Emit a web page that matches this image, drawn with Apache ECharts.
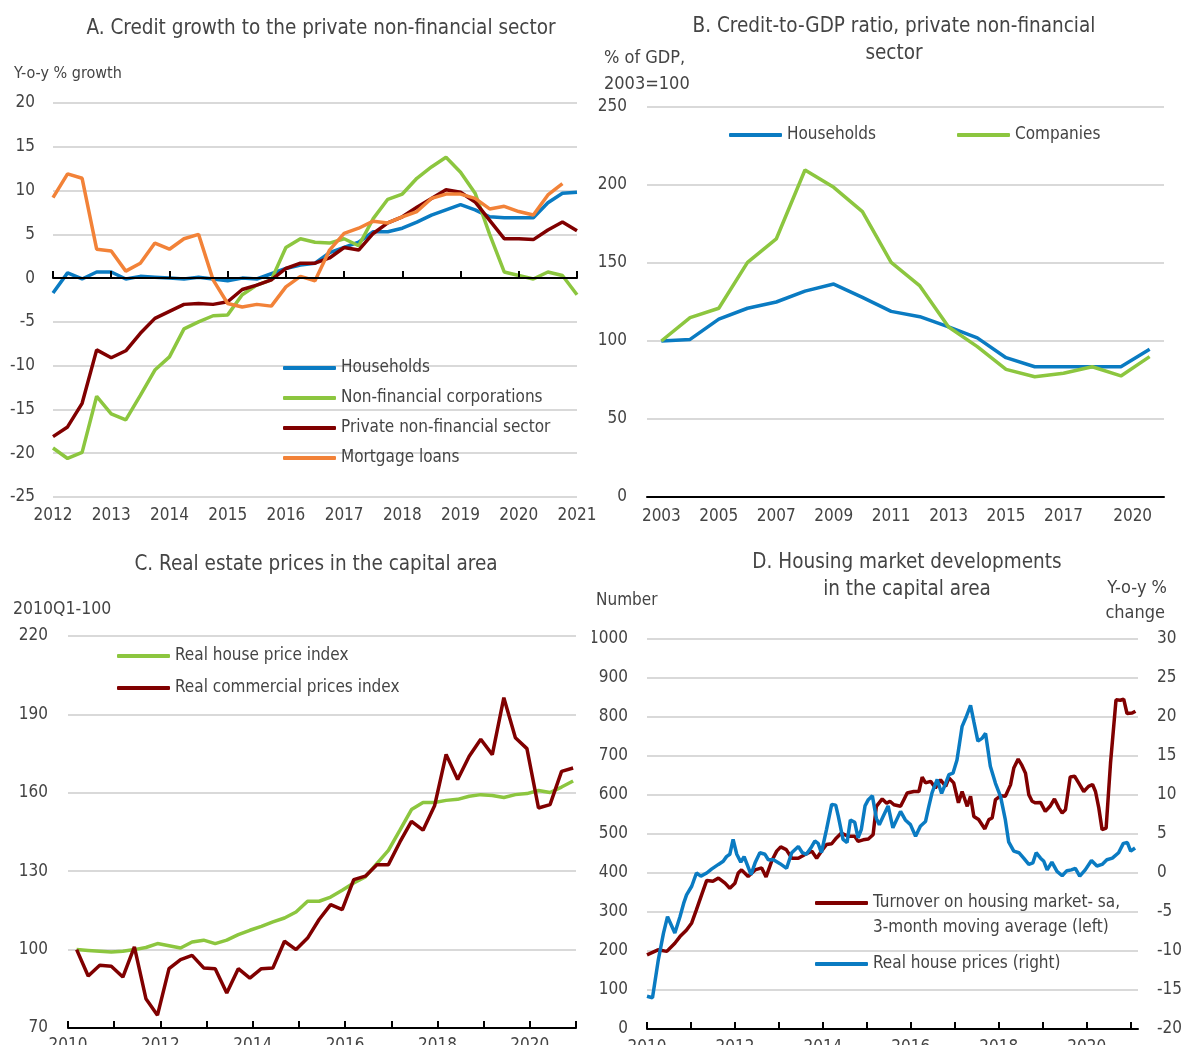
<!DOCTYPE html>
<html>
<head>
<meta charset="utf-8">
<script src="https://cdn.jsdelivr.net/npm/echarts@6/dist/echarts.min.js"></script>
<style>
  body { margin: 0; background: #fff; overflow: hidden; }
  .panel { position: absolute; }
</style>
</head>
<body>
<div id="pa" class="panel" style="left:0;top:0;width:600px;height:540px"></div>
<div id="pb" class="panel" style="left:592px;top:0;width:593px;height:540px"></div>
<div id="pc" class="panel" style="left:0;top:540px;width:592px;height:505px"></div>
<div id="pd" class="panel" style="left:592px;top:540px;width:593px;height:505px"></div>
<script>
// ---- data ----
// A: quarterly, 2012Q1 .. 2021Q1, y-o-y % growth
var aHouseholds = [-1.7, 0.6, -0.1, 0.7, 0.7, -0.1, 0.2, 0.1, 0.0, -0.1, 0.1, -0.1, -0.3, 0.0, -0.1, 0.5, 1.1, 1.5, 1.7, 2.9, 3.5, 4.1, 5.3, 5.3, 5.7, 6.4, 7.2, 7.8, 8.4, 7.8, 7.0, 6.9, 6.9, 6.9, 8.6, 9.7, 9.8]
var aCorporations = [-19.4, -20.6, -19.9, -13.5, -15.5, -16.2, -13.4, -10.5, -9.0, -5.8, -5.0, -4.3, -4.2, -1.9, -0.8, -0.2, 3.5, 4.5, 4.1, 4.0, 4.5, 3.7, 6.8, 9.0, 9.6, 11.4, 12.7, 13.8, 12.1, 9.7, 5.0, 0.7, 0.3, -0.1, 0.7, 0.3, -1.9]
var aPrivate = [-18.1, -17.0, -14.3, -8.2, -9.1, -8.3, -6.3, -4.6, -3.8, -3.0, -2.9, -3.0, -2.7, -1.3, -0.8, -0.2, 1.1, 1.7, 1.7, 2.3, 3.5, 3.2, 5.1, 6.3, 7.0, 8.1, 9.1, 10.1, 9.8, 8.7, 6.6, 4.5, 4.5, 4.4, 5.5, 6.4, 5.4]
var aMortgage = [9.2, 11.9, 11.4, 3.3, 3.1, 0.8, 1.7, 4.0, 3.3, 4.5, 5.0, -0.2, -2.9, -3.3, -3.0, -3.2, -1.0, 0.2, -0.3, 3.2, 5.1, 5.7, 6.5, 6.3, 7.0, 7.6, 9.1, 9.6, 9.6, 9.1, 7.9, 8.2, 7.6, 7.2, 9.5, 10.8]

// B: annual, 2003=100
var bYears = ['2003','2004','2005','2006','2007','2008','2009','2010','2011','2012','2013','2014','2015','2016','2017','2018','2019','2020']
var bShownYears = ['2003','2005','2007','2009','2011','2013','2015','2017','2020']
var bHouseholds = [100, 101, 114, 121, 125, 132, 136.5, 128, 119, 115.6, 109, 102, 89.3, 83.5, 83.5, 83.5, 83.5, 94.7]
var bCompanies = [100, 115, 121, 150.4, 165.4, 209.6, 198.5, 182.9, 150.4, 135.3, 109, 96.4, 81.8, 77.1, 79.3, 83.5, 77.6, 90]

// C: quarterly, 2010Q1 .. 2020Q4, 2010Q1=100
var cHouse = [100, 99.7, 99.4, 99.1, 99.4, 100, 100.8, 102.3, 101.5, 100.6, 102.9, 103.6, 102.3, 103.6, 105.7, 107.4, 108.9, 110.6, 112.1, 114.4, 118.5, 118.5, 120.1, 122.7, 125.5, 127.8, 132.9, 138, 145.7, 153.6, 156.3, 156.3, 157.1, 157.5, 158.7, 159.3, 159, 158.2, 159.3, 159.7, 160.9, 160.1, 162.2, 164.5]
var cCommercial = [100, 89.9, 94.0, 93.6, 89.5, 101.0, 81.2, 74.9, 92.7, 96.2, 97.8, 93.0, 92.7, 83.4, 92.7, 89.1, 92.7, 93.0, 103.2, 100.0, 104.4, 111.5, 117.2, 115.3, 126.8, 128.1, 132.5, 132.5, 141.2, 149.1, 145.7, 155, 174.7, 165.1, 174, 180.5, 174.6, 196.4, 181.1, 176.9, 154.2, 155.5, 168.2, 169.5]

// D: monthly readings, [months since Jan 2010, value]
var dTurnover = [[0,190],[3,203],[5.4,199],[7.6,220],[9,237],[10.8,254],[12.2,272],[13.5,306],[14.9,344],[16.3,381],[18,379],[19.5,387],[21.3,374],[22.6,361],[24,374],[24.9,400],[25.8,408],[27.6,391],[29.5,408],[31.3,413],[32.5,390],[34,430],[35.4,456],[36.5,467],[38,460],[39.5,438],[41.3,438],[43,447],[45,456],[46.3,438],[47.6,456],[49,473],[50.4,475],[51.7,490],[53,502],[55,494],[56.7,494],[57.6,481],[59,485],[60.4,487],[61.7,498],[62.6,571],[64.2,590],[65.4,579],[66.3,584],[67.4,575],[69.2,571],[70.1,588],[71,605],[72.8,609],[74.2,609],[75.1,646],[76,631],[77.4,635],[78.7,618],[80.1,639],[81.5,622],[82.4,644],[83.7,631],[85,580],[86,609],[87.4,571],[88.3,597],[89.2,545],[90.5,537],[92.2,513],[93.3,537],[94.2,541],[95.1,588],[96.5,598],[97.8,597],[99.2,626],[100.1,669],[101.3,692],[102.2,678],[103.3,656],[104.2,601],[105.1,584],[106,580],[107.4,581],[108.7,558],[110,571],[111.2,590],[112.4,567],[113.3,554],[114.2,562],[115.5,646],[116.7,648],[117.8,631],[119.2,609],[120.5,622],[121.6,627],[122.4,609],[123.3,567],[124.2,511],[125.3,515],[126.5,682],[128,844],[129.2,843],[130.1,846],[131,809],[132.4,810],[133.3,815]]
var dPrices = [[0,-15.8],[1.5,-16.0],[3.1,-11.1],[4.5,-7.7],[5.6,-5.6],[7.6,-7.7],[9,-5.6],[10,-3.9],[10.8,-2.8],[12.2,-1.7],[13.5,0.0],[14.7,-0.4],[16.3,0.0],[17.6,0.5],[19.5,1.1],[20.8,1.5],[21.7,2.1],[22.6,2.4],[23.5,4.3],[24.5,2.4],[25.6,1.4],[26.5,2.1],[28.4,-0.2],[29.5,1.3],[30.8,2.6],[32.2,2.4],[33.1,1.7],[34.5,1.7],[36.3,1.2],[38.1,0.6],[39.5,2.6],[41.3,3.4],[42.4,2.6],[43.5,2.4],[44.7,3.2],[45.8,4.1],[46.7,3.8],[47.6,2.6],[49,5.6],[50.4,8.8],[51.5,8.7],[52.2,7.3],[53.5,4.3],[54.6,3.9],[55.5,6.8],[56.7,6.5],[57.6,4.5],[58.5,5.6],[59.5,8.6],[60.4,9.4],[61.5,9.9],[62.6,7.0],[63.4,6.2],[64.5,7.3],[65.8,8.6],[67.1,5.8],[69.2,7.9],[70.5,6.8],[71.9,6.2],[73.3,4.7],[74.6,6.0],[76,6.6],[76.9,8.5],[77.8,10.3],[79.2,12.0],[80.4,10.2],[81.5,11.5],[82.4,12.6],[83.5,12.8],[84.6,14.5],[86,18.8],[87.1,20.0],[88.3,21.5],[89.2,19.4],[90.3,16.9],[91.5,17.3],[92.4,17.9],[93.7,13.7],[95.1,11.5],[96.5,9.8],[97.8,6.8],[98.7,4.0],[100.1,2.8],[101.5,2.6],[102.8,1.9],[104.2,1.1],[105.3,1.3],[106.2,2.6],[107.4,1.9],[108.3,1.5],[109.2,0.4],[110.5,1.4],[111.9,0.2],[113.3,-0.35],[114.6,0.3],[115.8,0.4],[116.9,0.6],[118.1,-0.4],[119.6,0.4],[121.3,1.6],[122.8,0.9],[124.2,1.1],[125.5,1.7],[127,1.9],[128.7,2.6],[130,3.8],[131.1,3.9],[132,2.8],[133.2,3.2]]

// ---- style ----
var FONT = "'Liberation Sans Narrow', 'DejaVu Sans Condensed', sans-serif"
var TXT = '#444'
var BLUE = '#0a7bc2', GREEN = '#8cc63f', DARKRED = '#800000', ORANGE = '#f28238'
var GRID = '#d9d9d9'
var LBL = 17, TITLE = 20.5

function quarterly(start, vals, shift){
    return vals.map(function(v, i){ return [start + i / 4 + shift, v] })
}
function monthly(pairs){
    return pairs.map(function(p){ return [2010 + p[0] / 12, p[1]] })
}
function line(name, data, color, extra){
    var s = {name: name, type: 'line', data: data, symbol: 'none', showSymbol: false,
        lineStyle: {color: color, width: 3.5}, itemStyle: {color: color}, z: 3}
    for (var k in extra) s[k] = extra[k]
    return s
}
function txt(x, y, text, size, align){
    return {type: 'text', x: x, y: y, silent: true,
        style: {text: text, fill: TXT, fontSize: size, fontFamily: FONT,
            align: align || 'left', textAlign: align || 'left', verticalAlign: 'middle', textVerticalAlign: 'middle'}}
}
function legend(left, top, names, extra){
    var l = {left: left, top: top, padding: 0, orient: 'vertical', itemGap: 10, icon: 'roundRect',
        itemWidth: 53, itemHeight: 4, selectedMode: false,
        textStyle: {fontSize: LBL, lineHeight: 20, color: TXT, fontFamily: FONT}, data: names}
    for (var k in extra) l[k] = extra[k]
    return l
}
var plain = function(v){ return String(v) }
var yLabel = {fontSize: LBL, color: TXT, fontFamily: FONT, formatter: plain}
var blackLine = {color: '#000', width: 2}

// ---- A ----
var gridAH = 540 - 103 - 43
var chartA = echarts.init(document.getElementById('pa'))
chartA.setOption({
    animation: false,
    grid: {left: 53, right: 23, top: 103, bottom: 43, outerBoundsMode: 'none'},
    xAxis: [
        {type: 'value', min: 2012, max: 2021, interval: 1, axisLine: {show: false, onZero: false}, axisTick: {show: false},
            splitLine: {show: false}, axisLabel: {fontSize: LBL, color: TXT, fontFamily: FONT, margin: 10, formatter: plain}},
        // zero line with ticks
        {type: 'value', min: 2012, max: 2021, interval: 1, position: 'bottom', z: 5,
            offset: -gridAH * 25 / 45,
            axisLine: {onZero: false, lineStyle: blackLine},
            axisTick: {inside: true, length: 7, lineStyle: blackLine},
            axisLabel: {show: false}, splitLine: {show: false}}
    ],
    yAxis: {type: 'value', min: -25, max: 20, interval: 5, axisLine: {show: false}, axisTick: {show: false},
        splitLine: {lineStyle: {color: GRID, width: 2}}, axisLabel: Object.assign({margin: 18}, yLabel)},
    legend: legend(283, 358, ['Households', 'Non-financial corporations', 'Private non-financial sector', 'Mortgage loans']),
    graphic: [
        txt(321, 29, 'A. Credit growth to the private non-financial sector', TITLE, 'center'),
        txt(14, 74, 'Y-o-y % growth', 16)
    ],
    series: [
        line('Households', quarterly(2012, aHouseholds, 0), BLUE),
        line('Non-financial corporations', quarterly(2012, aCorporations, 0), GREEN),
        line('Private non-financial sector', quarterly(2012, aPrivate, 0), DARKRED),
        line('Mortgage loans', quarterly(2012, aMortgage, 0), ORANGE)
    ]
})

// ---- B ----
var chartB = echarts.init(document.getElementById('pb'))
chartB.setOption({
    animation: false,
    grid: {left: 55, right: 21, top: 107, bottom: 43, outerBoundsMode: 'none'},
    xAxis: {type: 'category', data: bYears, boundaryGap: true, z: 5,
        axisLine: {lineStyle: blackLine},
        axisTick: {inside: true, length: 7, interval: 0, lineStyle: blackLine},
        axisLabel: {interval: 0, fontSize: LBL, color: TXT, fontFamily: FONT, margin: 11,
            formatter: function(v){
                if (bShownYears.indexOf(v) < 0) return ''
                if (v === '2020') return '{s|' + v + '}'
                return v
            },
            rich: {s: {fontSize: LBL, color: TXT, fontFamily: FONT, padding: [0, 34, 0, 0]}}}},
    yAxis: {type: 'value', min: 0, max: 250, interval: 50, axisLine: {show: false}, axisTick: {show: false},
        splitLine: {lineStyle: {color: GRID, width: 2}}, axisLabel: Object.assign({margin: 20}, yLabel)},
    legend: [
        legend(137, 125, ['Households']),
        legend(365, 125, ['Companies'])
    ],
    graphic: [
        txt(302, 27, 'B. Credit-to-GDP ratio, private non-financial', TITLE, 'center'),
        txt(302, 54, 'sector', TITLE, 'center'),
        txt(12, 58, '% of GDP,', 18),
        txt(12, 84, '2003=100', 18)
    ],
    series: [
        line('Households', bHouseholds, BLUE),
        line('Companies', bCompanies, GREEN)
    ]
})

// ---- C ----
var chartC = echarts.init(document.getElementById('pc'))
chartC.setOption({
    animation: false,
    grid: {left: 68, right: 16, top: 96, bottom: 17, outerBoundsMode: 'none'},
    xAxis: {type: 'value', min: 2010, max: 2021, interval: 1, z: 5,
        axisLine: {lineStyle: blackLine},
        axisTick: {inside: true, length: 7, lineStyle: blackLine},
        splitLine: {show: false},
        axisLabel: {fontSize: LBL, color: TXT, fontFamily: FONT, margin: 9,
            formatter: function(v){ return v % 2 === 0 ? String(v) : '' }}},
    yAxis: {type: 'value', min: 70, max: 220, interval: 30, axisLine: {show: false}, axisTick: {show: false},
        splitLine: {lineStyle: {color: GRID, width: 2}}, axisLabel: Object.assign({margin: 20}, yLabel)},
    legend: legend(117, 106, ['Real house price index', 'Real commercial prices index'], {itemGap: 12}),
    graphic: [
        txt(316, 25, 'C. Real estate prices in the capital area', TITLE, 'center'),
        txt(13, 69, '2010Q1-100', 17.5)
    ],
    series: [
        line('Real house price index', quarterly(2010, cHouse, 0.1875), GREEN),
        line('Real commercial prices index', quarterly(2010, cCommercial, 0.1875), DARKRED)
    ]
})

// ---- D ----
var chartD = echarts.init(document.getElementById('pd'))
var turnoverName = 'Turnover on housing market- sa, 3-month moving average (left)'
chartD.setOption({
    animation: false,
    grid: {left: 55, right: 47, top: 99, bottom: 16, outerBoundsMode: 'none'},
    xAxis: {type: 'value', min: 2010, max: 2010 + 134 / 12, interval: 1, z: 5,
        axisLine: {lineStyle: blackLine},
        axisTick: {inside: true, length: 7, lineStyle: blackLine},
        splitLine: {show: false},
        axisLabel: {fontSize: LBL, color: TXT, fontFamily: FONT, margin: 10, showMaxLabel: false,
            formatter: function(v){ return (Math.abs(v - Math.round(v)) < 1e-6 && Math.round(v) % 2 === 0) ? String(Math.round(v)) : '' }}},
    yAxis: [
        {type: 'value', min: 0, max: 1000, interval: 100, axisLine: {show: false}, axisTick: {show: false},
            splitLine: {lineStyle: {color: GRID, width: 2}}, axisLabel: Object.assign({margin: 19}, yLabel)},
        {type: 'value', min: -20, max: 30, interval: 5, position: 'right', axisLine: {show: false}, axisTick: {show: false},
            splitLine: {show: false}, axisLabel: Object.assign({margin: 19}, yLabel)}
    ],
    legend: [
        legend(223, 353, [turnoverName], {formatter: function(){ return 'Turnover on housing market- sa,' }}),
        legend(223, 414, ['Real house prices (right)'])
    ],
    graphic: [
        txt(315, 23, 'D. Housing market developments', TITLE, 'center'),
        txt(315, 50, 'in the capital area', TITLE, 'center'),
        txt(281, 388, '3-month moving average (left)', LBL),
        txt(4, 61, 'Number', 17),
        txt(575, 48, 'Y-o-y %', 18, 'right'),
        txt(573, 73, 'change', 18, 'right')
    ],
    series: [
        line(turnoverName, monthly(dTurnover), DARKRED, {yAxisIndex: 0}),
        line('Real house prices (right)', monthly(dPrices), BLUE, {yAxisIndex: 1})
    ]
})
</script>
</body>
</html>
